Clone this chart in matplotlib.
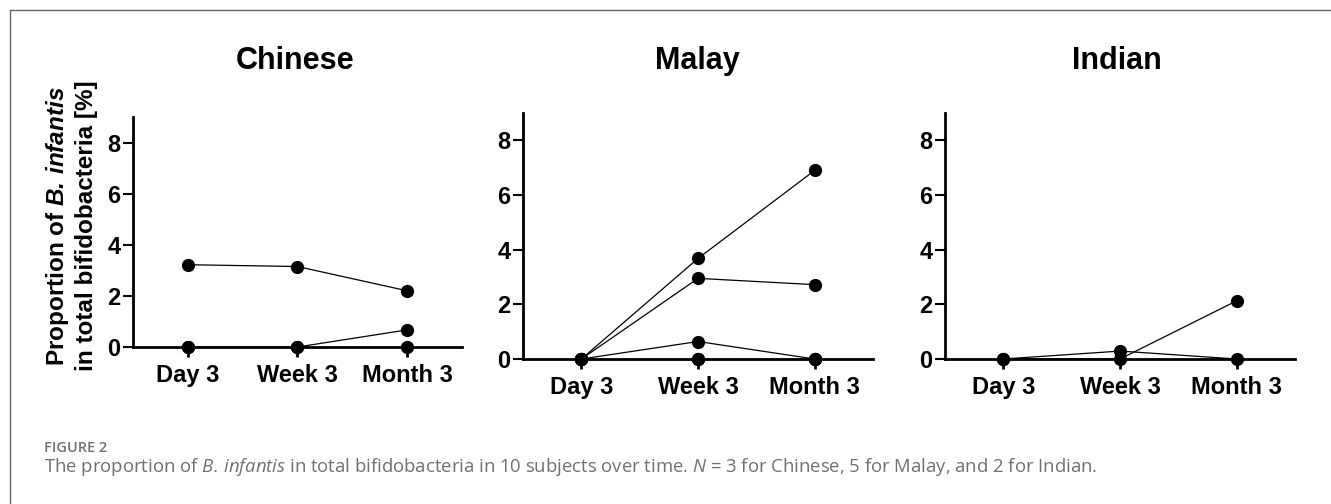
import matplotlib
matplotlib.use('Agg')
import matplotlib.pyplot as plt
from matplotlib.lines import Line2D

plt.rcParams['font.family'] = ['Liberation Sans', 'DejaVu Sans']
plt.rcParams['mathtext.fontset'] = 'custom'
plt.rcParams['mathtext.rm'] = 'Liberation Sans'
plt.rcParams['mathtext.bf'] = 'Liberation Sans:bold'
plt.rcParams['mathtext.it'] = 'Open Sans:italic'
plt.rcParams['mathtext.bfit'] = 'Liberation Sans:italic:bold'

timepoints = ['Day 3', 'Week 3', 'Month 3']
groups = ['Chinese', 'Malay', 'Indian']

# one list per subject: Day 3, Week 3, Month 3
chinese = [[3.22, 3.15, 2.2],
           [0, 0, 0.67],
           [0, 0, 0]]
malay = [[0, 3.68, 6.9],
         [0, 2.95, 2.72],
         [0, 0.64, 0],
         [0, 0, 0],
         [0, 0, 0]]
indian = [[0, 0.29, 0],
          [0, 0, 2.13]]
data = [chinese, malay, indian]

W, H = 1331, 504
fig = plt.figure(figsize=(W / 100, H / 100), dpi=100)

# axes boxes (left, bottom, width, height) in figure fraction
boxes = [[0.0999, 0.3115, 0.2472, 0.4563],
         [0.3930, 0.2877, 0.2629, 0.4881],
         [0.7100, 0.2877, 0.2630, 0.4881]]
title_x = [295, 697, 1117]

for box, name, subjects, tx in zip(boxes, groups, data, title_x):
    ax = fig.add_axes(box)
    x = list(range(len(timepoints)))
    for s in subjects:
        ax.plot(x, s, color='black', lw=0.9, marker='o', ms=8.5,
                clip_on=False, zorder=3)
    ax.set_xlim(-0.5, 2.5)
    ax.set_ylim(0, 9)
    ax.set_yticks([0, 2, 4, 6, 8])
    ax.set_xticks(x)
    ax.set_xticklabels(timepoints)
    for side in ['top', 'right']:
        ax.spines[side].set_visible(False)
    for side in ['left', 'bottom']:
        ax.spines[side].set_linewidth(2.0)
    ax.tick_params(axis='x', length=7, width=2.0, labelsize=17, pad=5)
    ax.tick_params(axis='y', length=7, width=1.5, labelsize=17, pad=2)
    for lab in ax.get_xticklabels() + ax.get_yticklabels():
        lab.set_fontweight('bold')
    fig.text(tx / W, 1 - 61 / H, name, fontsize=22, fontweight='bold',
             ha='center', va='center')

fig.text(71 / W, 1 - 226 / H,
         'Proportion of $\\mathbfit{B.\\,infantis}$\nin total bifidobacteria [%]',
         rotation=90, ha='center', va='center', fontsize=17.5,
         fontweight='bold', linespacing=1.2)

# frame lines
fig.add_artist(Line2D([9.5 / W, 9.5 / W], [0, 1 - 9.5 / H],
                      color='#666666', lw=1.0, transform=fig.transFigure))
fig.add_artist(Line2D([9.5 / W, 1], [1 - 9.5 / H, 1 - 9.5 / H],
                      color='#666666', lw=1.0, transform=fig.transFigure))

# caption
fig.text(44 / W, 1 - 452 / H, 'FIGURE 2', fontsize=10.5,
         family='Open Sans', fontweight='semibold', color='#707070',
         va='baseline')
fig.text(44 / W, 1 - 472 / H,
         'The proportion of $\\mathit{B.\\,infantis}$ in total bifidobacteria '
         'in 10 subjects over time. $\\mathit{N}$ = 3 for Chinese, 5 for Malay, '
         'and 2 for Indian.',
         fontsize=13.3, family='Open Sans', color='#707070', va='baseline')

fig.savefig('out.png', dpi=100)
